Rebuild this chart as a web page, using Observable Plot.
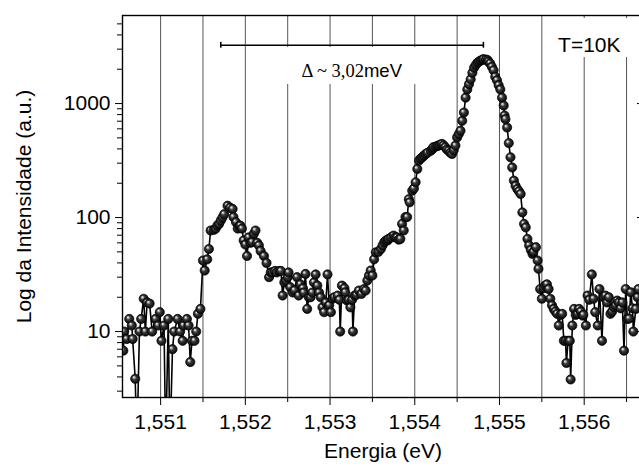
<!DOCTYPE html>
<html>
<head>
<meta charset="utf-8">
<script src="https://cdn.jsdelivr.net/npm/d3@7"></script>
<script src="https://cdn.jsdelivr.net/npm/@observablehq/plot@0.6"></script>
<style>
html, body { margin: 0; padding: 0; background: #fff; overflow: hidden; }
#chart { width: 639px; height: 472px; overflow: hidden; }
#chart svg { display: block; }
</style>
</head>
<body>
<div id="chart"></div>
<script>
// ---- data ----
const energy = [
1.55056,1.55057,1.55060,1.55063,1.55066,1.55067,1.55070,1.55072,1.55075,1.55077,
1.55080,1.55082,1.55084,1.55087,1.55090,1.55094,1.55097,1.55099,1.55101,1.55104,
1.55106,1.55109,1.55111,1.55114,1.55116,1.55120,1.55123,1.55126,1.55127,1.55131,
1.55133,1.55135,1.55137,1.55140,1.55142,1.55144,1.55147,1.55150,1.55152,1.55155,
1.55157,1.55159,1.55163,1.55165,1.55167,1.55169,1.55171,1.55173,1.55175,1.55179,
1.55182,1.55185,1.55186,1.55189,1.55191,1.55193,1.55194,1.55196,1.55198,1.55200,
1.55202,1.55204,1.55206,1.55208,1.55210,1.55212,1.55214,1.55216,1.55218,1.55222,
1.55225,1.55228,1.55230,1.55232,1.55235,1.55237,1.55240,1.55242,1.55244,1.55246,
1.55248,1.55250,1.55251,1.55253,1.55256,1.55258,1.55261,1.55263,1.55265,1.55268,
1.55269,1.55271,1.55273,1.55275,1.55277,1.55279,1.55281,1.55283,1.55285,1.55287,
1.55289,1.55291,1.55293,1.55295,1.55297,1.55299,1.55301,1.55303,1.55305,1.55309,
1.55311,1.55312,1.55314,1.55317,1.55318,1.55320,1.55322,1.55324,1.55326,1.55327,
1.55329,1.55331,1.55334,1.55337,1.55340,1.55342,1.55344,1.55346,1.55348,1.55350,
1.55352,1.55354,1.55357,1.55360,1.55362,1.55364,1.55366,1.55368,1.55369,1.55372,
1.55375,1.55377,1.55379,1.55381,1.55383,1.55385,1.55387,1.55389,1.55391,1.55393,
1.55394,1.55397,1.55399,1.55401,1.55403,1.55405,1.55407,1.55409,1.55411,1.55413,
1.55415,1.55419,1.55421,1.55422,1.55425,1.55427,1.55428,1.55430,1.55432,1.55434,
1.55436,1.55438,1.55440,1.55442,1.55444,1.55446,1.55448,1.55450,1.55452,1.55454,
1.55456,1.55458,1.55460,1.55462,1.55464,1.55466,1.55468,1.55470,1.55472,1.55474,
1.55476,1.55478,1.55480,1.55481,1.55484,1.55486,1.55487,1.55489,1.55491,1.55493,
1.55495,1.55497,1.55499,1.55501,1.55503,1.55505,1.55506,1.55507,1.55509,1.55511,
1.55513,1.55515,1.55517,1.55519,1.55521,1.55523,1.55525,1.55527,1.55529,1.55531,
1.55533,1.55535,1.55537,1.55539,1.55540,1.55543,1.55545,1.55546,1.55548,1.55550,
1.55552,1.55554,1.55556,1.55558,1.55560,1.55562,1.55564,1.55566,1.55568,1.55570,
1.55572,1.55574,1.55576,1.55578,1.55579,1.55581,1.55583,1.55584,1.55586,1.55588,
1.55590,1.55592,1.55594,1.55596,1.55598,1.55599,1.55602,1.55604,1.55606,1.55609,
1.55611,1.55613,1.55616,1.55618,1.55621,1.55623,1.55625,1.55627,1.55629,1.55631,
1.55633,1.55635,1.55637,1.55639,1.55641,1.55643,1.55645,1.55647,1.55649,1.55651,
1.55653,1.55655,1.55657,1.55658,1.55661,1.55663,1.55664,1.55668
];
const intensity = [
6.8,10,8.6,12.9,11.3,8.6,3.85,1,10,12.9,
19.4,10,18,17.6,10,12.9,11.3,14.8,8.3,11.3,
1,12.9,1,7.0,10,12.9,10,8.3,11.3,12.9,
11.3,5.4,8.3,8.3,10,14.3,15.8,42,34.3,43,
53,77,78,80,85,88,94,100,107,127,
122,119,101,91,80,84,85,80,63,58,
46,67,60,61,72,77,60,57,51,46,
40,30,33,33,34,33,34,34,20.7,27,
28,30,33,24.5,22,23,30,20.7,26,24,
22,32,15.8,20,20,22,27,31.7,25.3,22,
20,16.3,14.8,18,31.7,17,14.8,19.4,20,20.7,
19,10,25.3,24,22.1,18.7,19,16.3,19,10,
20.7,21,22.9,21.4,23.6,22.9,28,31,34.3,31,
43,49.6,50,53,57,61,63,63,65,67,
69.5,67,67,64,65,88,77,101,101,145,
136,172,180,204,267,316,330,338,350,361,
370,386,400,414,420,425,428,435,443,430,
414,395,386,370,361,390,428,505,540,578,
705,834,1127,1330,1480,1630,1860,2060,2180,2280,
2340,2390,2420,2450,2430,2400,2330,2250,2100,1960,
1720,1600,1450,1330,1127,960,785,730,616,450,
338,275,211,190,178,170,161,111,88,82,
65,57,52,48,50,55,42,35.5,23.6,19.4,
24,25.3,26,23.6,19.4,17,15.8,15,14.3,11.3,
14,14.3,8.3,8.3,5.3,8.3,8.3,3.8,11.3,15.8,
14,14.3,15.8,15,13.8,14,11.3,20.7,19,31.7,
19.4,14.8,11.3,23.6,8.3,20,20.7,18,20,14.3,
15,16.3,17,18.7,18,16,18,6.8,23.6,12.9,
13,22.1,16,10,15.8,20,23.6,18
];

const xMajorTicks = [1.551, 1.552, 1.553, 1.554, 1.555, 1.556];
const xMinorTicks = [1.5515, 1.5525, 1.5535, 1.5545, 1.5555, 1.5565];
const gridLines = [1.551, 1.5515, 1.552, 1.5525, 1.553, 1.5535, 1.554, 1.5545, 1.555, 1.5555, 1.556, 1.5565];
const yMajorTicks = [10, 100, 1000];
const yMinorTicks = [3,4,5,6,7,8,9,20,30,40,50,60,70,80,90,200,300,400,500,600,700,800,900,2000,3000,4000,5000];

const xDomain = [1.55055, 1.55670];
const yDomain = [2.64, 5920];

const xLabel = "Energia (eV)";
const yLabel = "Log da Intensidade (a.u.)";

// annotation: bracket and labels
const bracketEnergy = [1.55171, 1.55481];
const bracketLevel = 3245;
const bracketCap = [3060, 3440];
const deltaText = "Δ ~ 3,02";
const deltaUnit = "meV";
const deltaAt = [1.55340, 1945];
const tempText = "T=10K";
const tempAt = [1.55606, 3228];
const boxX1 = [1.55227, 1.55558];
const boxX2 = [1.55425, 1.55690];
const boxY1 = [1468, 2535];
const boxY2 = [3100, 5570];

// ---- build ----
const points = energy.map((e, i) => ({e, v: intensity[i]}));
const boxes = boxX1.map((x1, i) => ({x1, x2: boxX2[i], y1: boxY1[i], y2: boxY2[i]}));
const fmtX = d => d3.format(".3f")(d).replace(".", ",");
const sans = "'Liberation Sans', Arial, sans-serif";

const chart = Plot.plot({
  width: 639,
  height: 472,
  marginLeft: 122,
  marginRight: -4,
  marginTop: 15,
  marginBottom: 75,
  style: {fontFamily: sans, fontSize: "21px", background: "white", color: "black"},
  x: {domain: xDomain, axis: null},
  y: {type: "log", domain: yDomain, axis: null},
  marks: [
    Plot.ruleX(gridLines, {x: d => d, stroke: "#555", strokeWidth: 1}),
    Plot.rect(boxes, {x1: "x1", x2: "x2", y1: "y1", y2: "y2", fill: "white"}),
    Plot.ruleY([bracketLevel], {y: d => d, x1: bracketEnergy[0], x2: bracketEnergy[1], stroke: "black", strokeWidth: 1.6}),
    Plot.ruleX(bracketEnergy, {x: d => d, y1: bracketCap[0], y2: bracketCap[1], stroke: "black", strokeWidth: 1.6}),
    Plot.text([deltaText], {x: deltaAt[0], y: deltaAt[1], textAnchor: "end", fontFamily: "'Liberation Serif', 'Times New Roman', serif", fontSize: 18.5, fill: "black"}),
    Plot.text([deltaUnit], {x: deltaAt[0], y: deltaAt[1], textAnchor: "start", fontFamily: sans, fontSize: 18.5, fill: "black"}),
    Plot.text([tempText], {x: tempAt[0], y: tempAt[1], fontFamily: sans, fontSize: 21, fill: "black"}),
    Plot.line(points, {x: "e", y: "v", stroke: "black", strokeWidth: 1.6, clip: true}),
    Plot.dot(points, {x: "e", y: "v", r: 4.6, fill: "url(#ball)", stroke: "#000", strokeWidth: 0.7, clip: true}),
    Plot.axisX({ticks: xMajorTicks, anchor: "bottom", tickSize: 8, tickPadding: 9, tickFormat: fmtX, fontSize: 21}),
    Plot.axisX({ticks: xMinorTicks, anchor: "bottom", tickSize: 5, tickFormat: () => ""}),
    Plot.axisY({ticks: yMajorTicks, anchor: "left", tickSize: 7, tickPadding: 5, tickFormat: d => String(d), fontSize: 21}),
    Plot.axisY({ticks: yMinorTicks, anchor: "left", tickSize: 5, tickFormat: () => ""}),
    Plot.axisY({ticks: yMajorTicks, anchor: "right", tickSize: -7, tickFormat: () => ""}),
    Plot.axisY({ticks: yMinorTicks, anchor: "right", tickSize: -4, tickFormat: () => ""}),
    Plot.frame({stroke: "black", strokeWidth: 1.4}),
    Plot.text([xLabel], {frameAnchor: "bottom", dy: 60, fontSize: 21, fill: "black"}),
    Plot.text([yLabel], {frameAnchor: "left", textAnchor: "middle", dx: -98, rotate: -90, fontSize: 21, fill: "black"})
  ]
});

const defs = d3.select(chart).insert("defs", ":first-child");
const grad = defs.append("radialGradient").attr("id", "ball")
  .attr("cx", "0.5").attr("cy", "0.5").attr("r", "0.55")
  .attr("fx", "0.33").attr("fy", "0.3");
grad.append("stop").attr("offset", "0").attr("stop-color", "#ffffff");
grad.append("stop").attr("offset", "0.14").attr("stop-color", "#c8c8c8");
grad.append("stop").attr("offset", "0.4").attr("stop-color", "#3c3c3c");
grad.append("stop").attr("offset", "1").attr("stop-color", "#000000");

document.getElementById("chart").appendChild(chart);
</script>
</body>
</html>
